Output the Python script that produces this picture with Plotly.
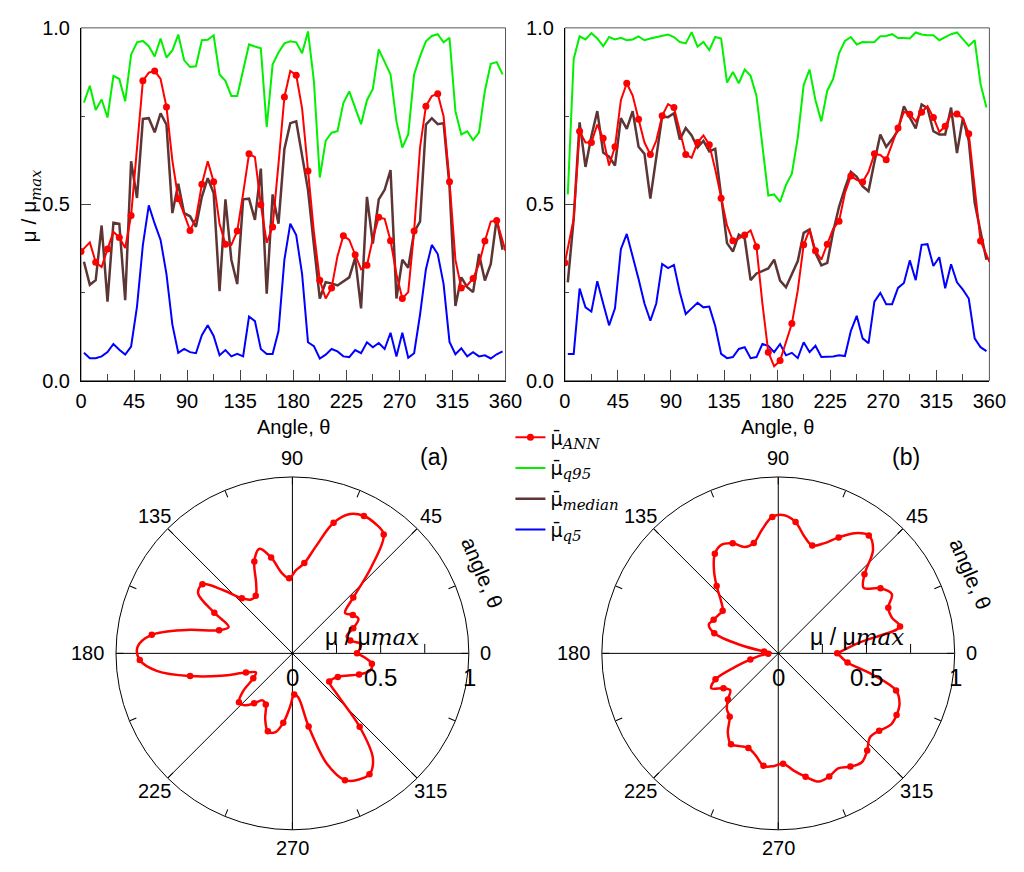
import numpy as np
import plotly.graph_objects as go

# ---- data -------------------------------------------------------------
# statistics sampled at bin centres every 5 degrees
ANGLES = np.arange(2.5, 360, 5)
# ANN curve: closed at 0 and 360 deg
ANN_ANGLES = np.concatenate([[0.0], np.arange(7.5, 355, 5), [360.0]])

ANN_A = [0.366, 0.392, 0.336, 0.322, 0.373, 0.422, 0.406, 0.376, 0.468, 0.660,
         0.850, 0.873, 0.878, 0.855, 0.776, 0.624, 0.516, 0.472, 0.426, 0.459,
         0.557, 0.622, 0.564, 0.445, 0.387, 0.385, 0.424, 0.530, 0.643, 0.634,
         0.499, 0.391, 0.436, 0.615, 0.804, 0.878, 0.866, 0.772, 0.594, 0.422,
         0.285, 0.233, 0.263, 0.353, 0.411, 0.399, 0.357, 0.316, 0.327, 0.403,
         0.463, 0.459, 0.397, 0.302, 0.233, 0.251, 0.424, 0.661, 0.778, 0.807,
         0.813, 0.749, 0.564, 0.343, 0.263, 0.270, 0.290, 0.330, 0.396, 0.451,
         0.454, 0.368]
Q95_A = [0.788, 0.836, 0.767, 0.797, 0.746, 0.864, 0.855, 0.792, 0.924, 0.959,
         0.963, 0.948, 0.919, 0.970, 0.916, 0.936, 0.981, 0.908, 0.889, 0.891,
         0.965, 0.966, 0.979, 0.868, 0.850, 0.807, 0.807, 0.882, 0.953, 0.947,
         0.942, 0.719, 0.896, 0.930, 0.956, 0.962, 0.959, 0.928, 0.990, 0.850,
         0.576, 0.680, 0.703, 0.707, 0.787, 0.820, 0.774, 0.727, 0.795, 0.827,
         0.939, 0.901, 0.868, 0.735, 0.661, 0.698, 0.868, 0.919, 0.962, 0.977,
         0.982, 0.959, 0.972, 0.764, 0.698, 0.707, 0.682, 0.703, 0.822, 0.898,
         0.903, 0.868]
MED_A = [0.337, 0.272, 0.285, 0.440, 0.224, 0.448, 0.445, 0.228, 0.622, 0.518,
         0.742, 0.744, 0.704, 0.758, 0.726, 0.475, 0.558, 0.475, 0.466, 0.436,
         0.521, 0.574, 0.532, 0.254, 0.514, 0.343, 0.274, 0.514, 0.516, 0.456,
         0.601, 0.247, 0.528, 0.445, 0.657, 0.730, 0.735, 0.643, 0.541, 0.385,
         0.233, 0.279, 0.276, 0.270, 0.281, 0.293, 0.348, 0.205, 0.521, 0.389,
         0.514, 0.541, 0.597, 0.233, 0.343, 0.320, 0.422, 0.451, 0.726, 0.744,
         0.727, 0.730, 0.551, 0.212, 0.293, 0.265, 0.251, 0.359, 0.284, 0.331,
         0.459, 0.371]
Q5_A = [0.079, 0.064, 0.064, 0.069, 0.081, 0.104, 0.088, 0.074, 0.097, 0.210,
        0.385, 0.497, 0.445, 0.399, 0.302, 0.159, 0.079, 0.090, 0.081, 0.078,
        0.129, 0.157, 0.127, 0.072, 0.087, 0.069, 0.076, 0.069, 0.182, 0.169,
        0.090, 0.076, 0.076, 0.141, 0.343, 0.445, 0.413, 0.302, 0.109, 0.098,
        0.063, 0.074, 0.090, 0.083, 0.069, 0.067, 0.087, 0.078, 0.109, 0.095,
        0.107, 0.090, 0.136, 0.069, 0.136, 0.065, 0.078, 0.187, 0.316, 0.385,
        0.359, 0.274, 0.110, 0.075, 0.092, 0.069, 0.081, 0.069, 0.072, 0.063,
        0.075, 0.083]

ANN_B = [0.334, 0.459, 0.707, 0.675, 0.675, 0.726, 0.687, 0.610, 0.663, 0.795,
         0.843, 0.808, 0.741, 0.675, 0.641, 0.680, 0.751, 0.784, 0.774, 0.707,
         0.641, 0.632, 0.675, 0.695, 0.669, 0.599, 0.517, 0.440, 0.397, 0.403,
         0.413, 0.426, 0.380, 0.219, 0.081, 0.041, 0.057, 0.109, 0.162, 0.256,
         0.385, 0.428, 0.368, 0.343, 0.387, 0.431, 0.452, 0.532, 0.580, 0.569,
         0.563, 0.592, 0.643, 0.640, 0.626, 0.670, 0.716, 0.762, 0.755, 0.735,
         0.761, 0.778, 0.746, 0.705, 0.721, 0.755, 0.756, 0.744, 0.700, 0.541,
         0.396, 0.337]
Q95_B = [0.528, 0.912, 0.976, 0.967, 0.985, 0.970, 0.948, 0.974, 0.967, 0.972,
         0.965, 0.967, 0.976, 0.965, 0.970, 0.974, 0.977, 0.981, 0.974, 0.960,
         0.956, 0.988, 0.947, 0.960, 0.937, 0.974, 0.970, 0.845, 0.875, 0.843,
         0.882, 0.864, 0.807, 0.670, 0.525, 0.528, 0.507, 0.555, 0.587, 0.689,
         0.838, 0.882, 0.795, 0.735, 0.822, 0.855, 0.928, 0.963, 0.974, 0.953,
         0.960, 0.959, 0.960, 0.976, 0.977, 0.982, 0.971, 0.971, 0.970, 0.987,
         0.981, 0.979, 0.979, 0.965, 0.974, 0.982, 0.987, 0.967, 0.949, 0.965,
         0.841, 0.774]
MED_B = [0.279, 0.459, 0.732, 0.606, 0.693, 0.764, 0.647, 0.635, 0.610, 0.744,
         0.714, 0.764, 0.663, 0.643, 0.516, 0.640, 0.749, 0.747, 0.758, 0.684,
         0.716, 0.695, 0.661, 0.680, 0.650, 0.657, 0.516, 0.390, 0.366, 0.414,
         0.403, 0.285, 0.304, 0.311, 0.318, 0.343, 0.284, 0.265, 0.304, 0.339,
         0.419, 0.429, 0.362, 0.327, 0.334, 0.422, 0.493, 0.546, 0.592, 0.578,
         0.551, 0.537, 0.620, 0.698, 0.663, 0.684, 0.709, 0.778, 0.746, 0.715,
         0.783, 0.772, 0.707, 0.698, 0.698, 0.774, 0.645, 0.744, 0.680, 0.505,
         0.422, 0.343]
Q5_B = [0.076, 0.076, 0.261, 0.208, 0.196, 0.282, 0.219, 0.157, 0.205, 0.373,
        0.416, 0.355, 0.288, 0.219, 0.170, 0.219, 0.331, 0.319, 0.328, 0.251,
        0.189, 0.205, 0.221, 0.208, 0.210, 0.155, 0.076, 0.064, 0.067, 0.090,
        0.095, 0.064, 0.067, 0.104, 0.099, 0.081, 0.104, 0.072, 0.079, 0.064,
        0.109, 0.081, 0.099, 0.067, 0.067, 0.069, 0.072, 0.070, 0.141, 0.184,
        0.120, 0.106, 0.224, 0.249, 0.217, 0.217, 0.263, 0.277, 0.341, 0.285,
        0.385, 0.387, 0.325, 0.350, 0.262, 0.330, 0.279, 0.258, 0.233, 0.120,
        0.095, 0.084]

ANGLE_TICKS = [0, 45, 90, 135, 180, 225, 270, 315, 360]
POLAR_LABEL_ANGLES = [0, 45, 90, 135, 180, 225, 270, 315]
RADIAL_TICKS = [0, 0.5, 1]

# ---- styling ----------------------------------------------------------
RED, GREEN, BROWN, BLUE = "#ff0000", "#00f000", "#5e3535", "#0000ff"
FONT = "Liberation Sans"
SERIF = "DejaVu Serif"
W, H = 1024, 872
POLAR_R = 181
POLAR_CENTRES = {"polar": (293, 659), "polar2": (790, 659)}

# every other ANN sample carries a marker
MARKED = [i for i in range(len(ANN_ANGLES)) if i % 2 == 0 and ANN_ANGLES[i] < 360]


def it(s, size=None):
    st = f"font-family:{SERIF}"
    if size:
        st += f";font-size:{size}px"
    return f'<span style="{st}"><i>{s}</i></span>'


MU_BAR = '<span style="font-family:DejaVu Sans">\u03bc\u0304</span>'


def leg(sub):
    return f"{MU_BAR}<sub>{it(sub, 15)}</sub>"


NAMES = {"ann": leg("ANN"), "q95": leg("q95"), "med": leg("median"), "q5": leg("q5")}

fig = go.Figure()


def add_panel(xa, ya, ann, q95, med, q5, legend):
    fig.add_trace(go.Scatter(x=ANGLES, y=q95, mode="lines", name=NAMES["q95"],
                             line=dict(color=GREEN, width=2), xaxis=xa, yaxis=ya,
                             legendgroup="q95", showlegend=legend, legendrank=2))
    fig.add_trace(go.Scatter(x=ANGLES, y=q5, mode="lines", name=NAMES["q5"],
                             line=dict(color=BLUE, width=2), xaxis=xa, yaxis=ya,
                             legendgroup="q5", showlegend=legend, legendrank=4))
    fig.add_trace(go.Scatter(x=ANGLES, y=med, mode="lines", name=NAMES["med"],
                             line=dict(color=BROWN, width=2.5), xaxis=xa, yaxis=ya,
                             legendgroup="med", showlegend=legend, legendrank=3))
    fig.add_trace(go.Scatter(x=ANN_ANGLES, y=ann, mode="lines+markers", name=NAMES["ann"],
                             line=dict(color=RED, width=2),
                             marker=dict(color=RED, size=7),
                             selectedpoints=MARKED,
                             unselected=dict(marker=dict(opacity=0)),
                             xaxis=xa, yaxis=ya, legendgroup="ann",
                             showlegend=legend, legendrank=1))


add_panel("x", "y", ANN_A, Q95_A, MED_A, Q5_A, True)
add_panel("x2", "y2", ANN_B, Q95_B, MED_B, Q5_B, False)


def add_polar(sub, ann):
    # 45-degree spokes across the whole circle
    sr, st = [], []
    for a in (0, 45, 90, 135):
        sr += [1, 1, None]
        st += [a, a + 180, None]
    fig.add_trace(go.Scatterpolar(r=sr, theta=st, mode="lines", subplot=sub,
                                  line=dict(color="black", width=1),
                                  hoverinfo="skip", showlegend=False))
    fig.add_trace(go.Scatterpolar(r=ann, theta=ANN_ANGLES, mode="lines+markers",
                                  subplot=sub, legendgroup="ann",
                                  line=dict(color=RED, width=2.5, shape="spline", smoothing=1),
                                  marker=dict(color=RED, size=6.5),
                                  selectedpoints=MARKED,
                                  unselected=dict(marker=dict(opacity=0)),
                                  showlegend=False))


add_polar("polar", ANN_A)
add_polar("polar2", ANN_B)


def px_x(v):
    return v / W


def px_y(v):
    return 1 - v / H


def cart_axes(dom_x):
    xa = dict(domain=dom_x, range=[0, 360], tickvals=ANGLE_TICKS, ticks="inside",
              ticklen=11, tickcolor="#444", tickwidth=1,
              minor=dict(tickvals=[22.5 + 45 * k for k in range(8)], ticks="inside",
                         ticklen=7, tickcolor="#444", showgrid=False),
              showline=True, linecolor="black", linewidth=1, showgrid=False,
              zeroline=False, tickfont=dict(size=20, color="black"),
              ticklabelstandoff=2, fixedrange=True)
    ya = dict(domain=[px_y(379.3), px_y(17.3)], range=[0, 1], tickvals=[0, 0.5, 1],
              tickformat=".1f", ticks="inside", ticklen=10, tickcolor="#444",
              minor=dict(tickvals=[0.25, 0.75], ticks="inside", ticklen=4,
                         tickcolor="#444", showgrid=False),
              showline=True, linecolor="black", linewidth=1, showgrid=False,
              zeroline=False, tickfont=dict(size=20, color="black"),
              ticklabelstandoff=6, fixedrange=True)
    return xa, ya


xa1, ya1 = cart_axes([px_x(76.7), px_x(511)])
xa2, ya2 = cart_axes([px_x(571.7), px_x(1006)])
ya2["anchor"] = "x2"
xa2["anchor"] = "y2"


def polar_layout(cx, cy, r):
    vals = [22.5 * k for k in range(16)]
    return dict(
        domain=dict(x=[px_x(cx - r), px_x(cx + r)], y=[px_y(cy + r), px_y(cy - r)]),
        bgcolor="white",
        angularaxis=dict(tickvals=vals, ticks="inside", ticklen=7, showticklabels=False,
                         tickcolor="black", showgrid=False, showline=True,
                         linecolor="black", linewidth=1, rotation=0,
                         direction="counterclockwise"),
        radialaxis=dict(range=[0, 1], tickvals=[0.25, 0.5, 0.75], ticks="inside",
                        ticklen=9, tickcolor="black", angle=0, side="clockwise",
                        showticklabels=False, showline=False, showgrid=False),
    )


annotations = []


def note(text, x, y, size, angle=0, xanchor="center", yanchor="middle"):
    annotations.append(dict(text=text, x=px_x(x), y=px_y(y), xref="paper", yref="paper",
                            showarrow=False, textangle=angle, xanchor=xanchor,
                            yanchor=yanchor, font=dict(size=size, color="black", family=FONT)))


MU_RATIO = "\u03bc / \u03bc"
note(f"{MU_RATIO}<sub>{it('max')}</sub>", 25, 200, 21, -90)
note("Angle, \u03b8", 294, 427, 20)
note("Angle, \u03b8", 789, 427, 20)
note("(a)", 438, 458, 23)
note("(b)", 921, 458, 23)
note("angle, \u03b8", 487, 576, 21, 67)
note("angle, \u03b8", 987, 578, 21, 67)

# polar tick labels: angles around the rim, radii along the 0-degree spoke
for cx, cy in POLAR_CENTRES.values():
    for a in POLAR_LABEL_ANGLES:
        t = np.deg2rad(a)
        if a == 0:
            note(str(a), cx + POLAR_R + 9, cy, 20, xanchor="left")
        elif a == 180:
            note(str(a), cx - POLAR_R - 10, cy, 20, xanchor="right")
        else:
            d = POLAR_R + 19
            note(str(a), cx + d * np.cos(t), cy - d * np.sin(t), 20)
    for rv in RADIAL_TICKS:
        note(f"{rv:g}", cx + rv * POLAR_R, cy + 25, 24)
    note(f"{MU_RATIO}{it('max')}", cx + 81, cy - 17, 23)

shapes = []
for xr, yr in (("x", "y"), ("x2", "y2")):
    shapes.append(dict(type="rect", xref=f"{xr} domain", yref=f"{yr} domain",
                       x0=0, x1=1, y0=0, y1=1, line=dict(color="#555", width=1),
                       layer="below"))

fig.update_layout(
    width=W, height=H, margin=dict(l=0, r=0, t=0, b=0),
    paper_bgcolor="white", plot_bgcolor="white",
    font=dict(family=FONT, color="black"),
    xaxis=xa1, yaxis=ya1, xaxis2=xa2, yaxis2=ya2,
    polar=polar_layout(*POLAR_CENTRES["polar"], POLAR_R),
    polar2=polar_layout(*POLAR_CENTRES["polar2"], POLAR_R),
    annotations=annotations, shapes=shapes,
    legend=dict(x=px_x(516), y=px_y(418), xanchor="left", yanchor="top",
                font=dict(size=19, family=FONT), bgcolor="rgba(0,0,0,0)",
                traceorder="grouped", tracegroupgap=3, itemwidth=30),
    showlegend=True,
)

fig.write_html("out.html")
